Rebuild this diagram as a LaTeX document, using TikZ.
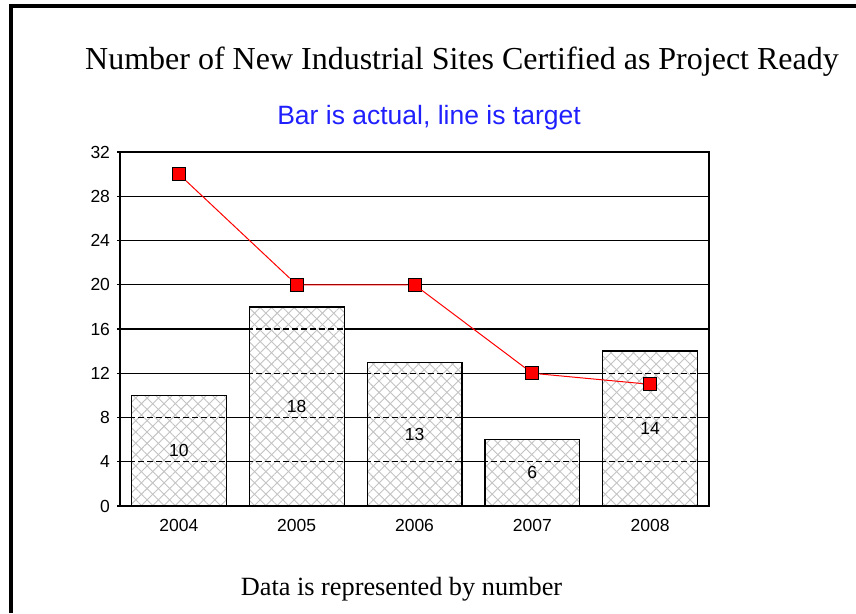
\documentclass[tikz,border=0pt]{standalone}
\usepackage{fontspec}
\setmainfont{Liberation Serif}
\setsansfont{Liberation Sans}
\usetikzlibrary{patterns.meta}

\definecolor{subblue}{RGB}{32,32,255}
\definecolor{hatchgray}{RGB}{195,195,195}

\begin{document}
\begin{tikzpicture}[x=1pt, y=-1pt,
  numlabel/.style={font=\sffamily\fontsize{17.5}{19}\selectfont},
  gridline/.style={line width=1.3pt},
  target/.style={red, line width=1pt},
  marker/.style={rectangle, draw=black, fill=red, line width=1pt, minimum size=13pt, inner sep=0pt}]

\useasboundingbox (0,0) rectangle (856,613);

% page frame
\draw[line width=3.5pt] (11,613) -- (11,5.8) -- (856,5.8);

% headings
\node (title) [anchor=base, font=\fontsize{32}{36}\selectfont] at (462,69)
  {Number of New Industrial Sites Certified as Project Ready};
\node (subtitle) [anchor=base, text=subblue, font=\sffamily\fontsize{26.5}{29}\selectfont] at (429,124.5)
  {Bar is actual, line is target};
\node (note) [anchor=base, font=\fontsize{26.3}{30}\selectfont] at (401.5,595)
  {Data is represented by number};

% chart: one x unit per year, one y unit per site
\begin{scope}[shift={(120pt,-506pt)}, x=117.8pt, y=11.0625pt]

  % grid
  \foreach \v in {4,8,...,28}
    \draw[gridline] (0,\v) -- (5,\v);

  % bars, actual counts
  \foreach \yr/\act/\tgt [count=\i from 0] in {2004/10/30, 2005/18/20, 2006/13/20, 2007/6/12, 2008/14/11}{
    \fill[white] (\i+0.098,0) rectangle (\i+0.903,\act);
    \fill[pattern={Lines[angle=45, distance=8pt, line width=0.9pt]}, pattern color=hatchgray]
      (\i+0.098,0) rectangle (\i+0.903,\act);
    \fill[pattern={Lines[angle=-45, distance=8pt, line width=0.9pt]}, pattern color=hatchgray]
      (\i+0.098,0) rectangle (\i+0.903,\act);
    \begin{scope}
      \clip (\i+0.098,0) rectangle (\i+0.903,\act);
      \foreach \v in {4,8,...,28}
        \draw[gridline, dash pattern=on 6pt off 3pt] (\i,\v) -- (\i+1,\v);
    \end{scope}
    \draw[gridline] (\i+0.098,0) rectangle (\i+0.903,\act);
    \node[numlabel] (val\i) at (\i+0.5,\act/2) {\act};
    \node[numlabel, yshift=-19.5pt] (year\i) at (\i+0.5,0) {\yr};
    \node[marker] (tgt\i) at (\i+0.5,\tgt) {};
  }

  % axes and ticks
  \draw[gridline] (0,0) rectangle (5,32);
  \foreach \v in {0,4,...,32}{
    \draw[gridline] (0,\v) -- ++(-3pt,0);
    \node[numlabel, anchor=east, xshift=-6.5pt] (tick\v) at (0,\v) {\v};
  }

  % target line
  \draw[target] (tgt0) -- (tgt1) -- (tgt2) -- (tgt3) -- (tgt4);
\end{scope}
\end{tikzpicture}
\end{document}
